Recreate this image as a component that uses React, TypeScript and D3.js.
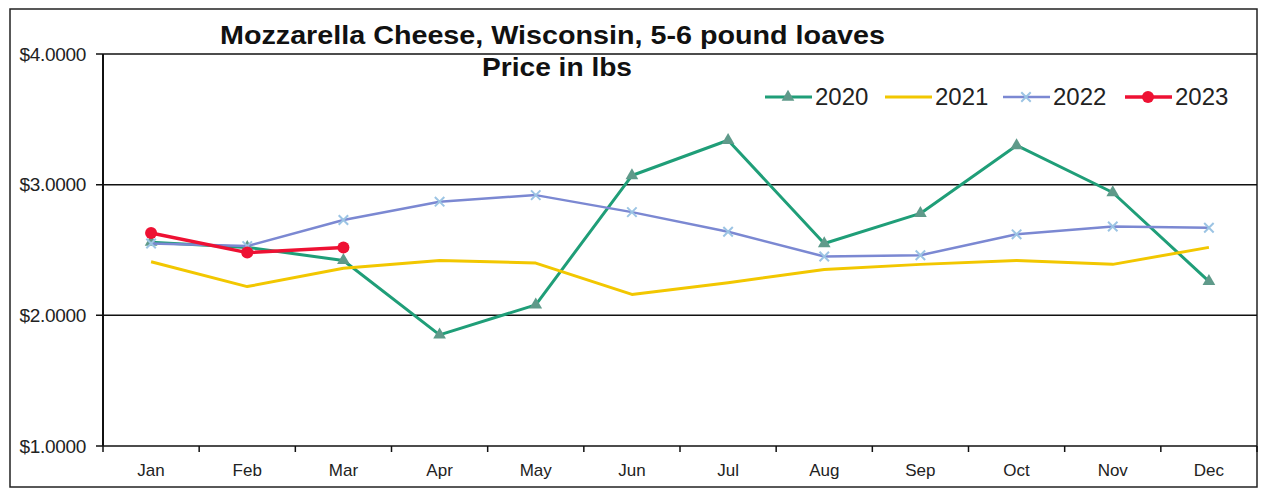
import * as React from "react";
import * as d3 from "d3";

const months = ["Jan", "Feb", "Mar", "Apr", "May", "Jun", "Jul", "Aug", "Sep", "Oct", "Nov", "Dec"];
const yTicks = [1, 2, 3, 4];
const values2020 = [2.56, 2.52, 2.42, 1.85, 2.08, 3.07, 3.34, 2.55, 2.78, 3.3, 2.94, 2.26];
const values2021 = [2.41, 2.22, 2.36, 2.42, 2.4, 2.16, 2.25, 2.35, 2.39, 2.42, 2.39, 2.52];
const values2022 = [2.55, 2.53, 2.73, 2.87, 2.92, 2.79, 2.64, 2.45, 2.46, 2.62, 2.68, 2.67];
const values2023 = [2.63, 2.48, 2.52];

const seriesList = [
  { name: "2020", values: values2020, color: "#1f9e78", marker: "triangle", mcolor: "#5f9a8a", width: 3 },
  { name: "2021", values: values2021, color: "#f2c700", marker: "none", mcolor: "#f2c700", width: 3 },
  { name: "2022", values: values2022, color: "#7b88d2", marker: "x", mcolor: "#9cc4e4", width: 2.5 },
  { name: "2023", values: values2023, color: "#ee1133", marker: "circle", mcolor: "#ee1133", width: 3.5 },
];

const W = 1261;
const H = 489;
const left = 103, right = 1257, top = 54, bottom = 446;

const Marker = ({ type, x, y, color }) => {
  if (type === "triangle") {
    const p = d3.symbol(d3.symbolTriangle, 70)();
    return <path d={p} transform={`translate(${x},${y})`} fill={color} />;
  }
  if (type === "circle") {
    return <circle cx={x} cy={y} r={6} fill={color} />;
  }
  if (type === "x") {
    const p = d3.symbol(d3.symbolX, 60)();
    return <path d={p} transform={`translate(${x},${y})`} fill="none" stroke={color} strokeWidth={2} />;
  }
  return null;
};

export default function App() {
  const x = d3.scaleBand().domain(months).range([left, right]);
  const y = d3.scaleLinear().domain([1, 4]).range([bottom, top]);
  const cx = (m) => x(m) + x.bandwidth() / 2;
  const line = d3.line().x((d, i) => cx(months[i])).y((d) => y(d));
  const font = "Arial, 'Liberation Sans', sans-serif";
  const ticksX = months.map((m) => x(m)).concat([right]);

  const legendX = [765, 885, 1003, 1125];

  return (
    <svg width={W} height={H} style={{ position: "absolute", left: 0, top: 0, background: "#fff" }} fontFamily={font}>
      <rect x={10} y={9} width={1247} height={478} fill="#fff" stroke="#222" strokeWidth={1.5} />
      {/* grid */}
      {yTicks.map((t) => (
        <g key={t}>
          <line x1={96} x2={right} y1={y(t)} y2={y(t)} stroke="#111" strokeWidth={1.5} />
          <text x={86} y={y(t)} dy="0.35em" textAnchor="end" fontSize={19} fill="#222" letterSpacing={-0.3}>
            {"$" + t.toFixed(4)}
          </text>
        </g>
      ))}
      <line x1={left} x2={left} y1={top} y2={bottom} stroke="#111" strokeWidth={2} />
      {ticksX.map((t, i) => (
        <line key={i} x1={t} x2={t} y1={bottom} y2={bottom + 6} stroke="#111" strokeWidth={1.5} />
      ))}
      {months.map((m) => (
        <text key={m} x={cx(m)} y={470} dy="0.35em" textAnchor="middle" fontSize={17} fill="#222">
          {m}
        </text>
      ))}
      {/* series */}
      {seriesList.map((s) => (
        <g key={s.name}>
          <path d={line(s.values)} fill="none" stroke={s.color} strokeWidth={s.width} strokeLinejoin="round" />
          {s.values.map((v, i) => (
            <Marker key={i} type={s.marker} x={cx(months[i])} y={y(v)} color={s.mcolor} />
          ))}
        </g>
      ))}
      {/* title */}
      <text x={220} y={44} fontSize={25} fontWeight="bold" fill="#111" textLength={665} lengthAdjust="spacingAndGlyphs">
        Mozzarella Cheese, Wisconsin, 5-6 pound loaves
      </text>
      <text x={482} y={76} fontSize={25} fontWeight="bold" fill="#111" textLength={150} lengthAdjust="spacingAndGlyphs">
        Price in lbs
      </text>
      {/* legend */}
      {seriesList.map((s, i) => (
        <g key={s.name}>
          <line x1={legendX[i]} x2={legendX[i] + 47} y1={97} y2={97} stroke={s.color} strokeWidth={s.width} />
          <Marker type={s.marker} x={legendX[i] + 23} y={97} color={s.mcolor} />
          <text x={legendX[i] + 50} y={97} dy="0.35em" fontSize={24} fill="#222">
            {s.name}
          </text>
        </g>
      ))}
    </svg>
  );
}
